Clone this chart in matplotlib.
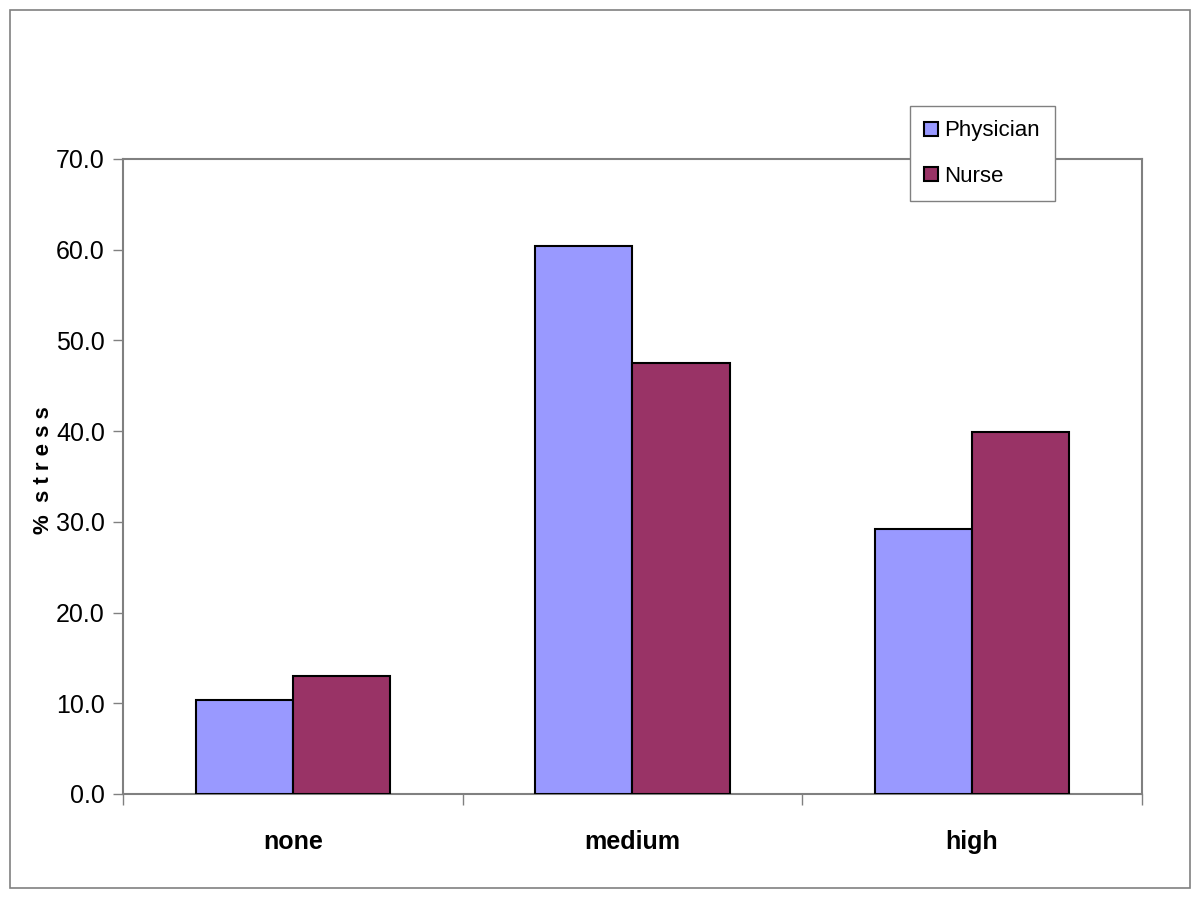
import matplotlib
matplotlib.use("Agg")
import numpy as np
from matplotlib import pyplot as plt
from matplotlib.patches import Rectangle

plt.rcParams["font.family"] = ["Liberation Sans", "DejaVu Sans"]

# ======= Data =====================================================
categories = ["none", "medium", "high"]
physician = [10.4, 60.4, 29.2]
nurse = [13.0, 47.5, 39.9]

PHYS_COLOR = "#9999FF"
NURSE_COLOR = "#993366"
GRAY = "#808080"
# ==================================================================


def main() -> None:
    fig = plt.figure(figsize=(12, 9), dpi=100)
    ax = fig.add_axes([0.1025, 0.1178, 0.849, 0.7056])

    x = np.arange(len(categories))
    w = 0.286
    ax.bar(x - w / 2, physician, w, color=PHYS_COLOR, edgecolor="black", linewidth=1.5,
           label="Physician", zorder=3)
    ax.bar(x + w / 2, nurse, w, color=NURSE_COLOR, edgecolor="black", linewidth=1.5,
           label="Nurse", zorder=3)

    ax.set_xlim(-0.5, len(categories) - 0.5)
    ax.set_ylim(0, 70)
    ax.set_yticks(np.arange(0, 71, 10))
    ax.set_yticklabels([f"{v:.1f}" for v in np.arange(0, 71, 10)], fontsize=18)
    ax.tick_params(axis="y", direction="out", length=7, width=1, color=GRAY, pad=6)

    ax.set_xticks(x)
    ax.set_xticklabels(categories, fontsize=18, fontweight="bold")
    ax.tick_params(axis="x", which="major", length=0, pad=26)
    ax.set_xticks(np.arange(-0.5, len(categories), 1.0), minor=True)
    ax.tick_params(axis="x", which="minor", direction="out", length=8, width=1, color=GRAY)

    for sp in ax.spines.values():
        sp.set_color(GRAY)
        sp.set_linewidth(1.5)

    # 縦書きラベル (字間を少し空ける)
    ax.set_ylabel("%  s t r e s s", fontsize=16, fontweight="bold")
    ax.yaxis.set_label_coords(-0.068, 0.51)

    leg = ax.legend(loc="upper left", bbox_to_anchor=(910 / 1200, 1 - 106 / 900),
                    bbox_transform=fig.transFigure, borderaxespad=0, fontsize=16,
                    frameon=True, fancybox=False, edgecolor=GRAY, framealpha=1,
                    handlelength=0.6, handleheight=0.6, handletextpad=0.3,
                    labelspacing=1.1, borderpad=0.65)
    leg.get_frame().set_linewidth(1.0)
    leg.set_zorder(5)

    # 外枠
    fig.patches.append(Rectangle((10 / 1200, 12 / 900), 1180 / 1200, 878 / 900,
                                 transform=fig.transFigure, fill=False,
                                 edgecolor=GRAY, linewidth=1.2))

    fig.savefig("out.png", dpi=100)
    plt.close(fig)


if __name__ == "__main__":
    main()
